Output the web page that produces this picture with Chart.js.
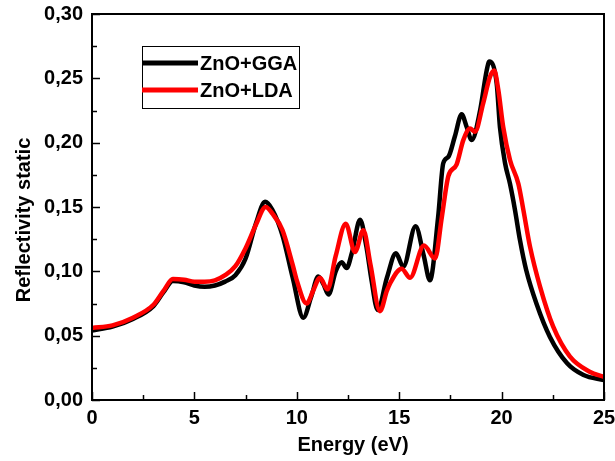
<!DOCTYPE html>
<html>
<head>
<meta charset="utf-8">
<script src="https://cdn.jsdelivr.net/npm/chart.js@4.4.1/dist/chart.umd.min.js"></script>
<style>
  html, body { margin: 0; padding: 0; background: #fff; }
  #wrap { width: 615px; height: 461px; }
</style>
</head>
<body>
<div id="wrap"><canvas id="refl" width="615" height="461"></canvas></div>
<script>
// Static reflectivity of ZnO, GGA vs LDA
const seriesLabels = ['ZnO+GGA', 'ZnO+LDA'];
const xTitle = 'Energy (eV)';
const yTitle = 'Reflectivity static';

const energyGGA = [0, 1, 2, 3, 3.5, 3.95, 4.5, 5, 5.5, 6, 6.5, 7, 7.5, 8, 8.45, 8.8, 9.3, 9.8, 10.32,
  10.7, 11.05, 11.3, 11.55, 11.9, 12.19, 12.43, 12.7, 13.09, 13.4, 13.65, 13.95, 14.4, 14.84, 15.2,
  15.8, 16.2, 16.5, 16.9, 17.15, 17.4, 17.72, 18.05, 18.3, 18.54, 18.95, 19.27, 19.4, 19.76, 19.92,
  20.17, 20.41, 20.65, 20.9, 21.2, 21.7, 22.36, 23.2, 24.0, 25];
const reflGGA = [0.054, 0.057, 0.063, 0.073, 0.084, 0.0925, 0.0915, 0.089, 0.088, 0.089, 0.092, 0.097,
  0.110, 0.137, 0.154, 0.148, 0.128, 0.095, 0.064, 0.080, 0.096, 0.090, 0.082, 0.100, 0.107, 0.1025,
  0.115, 0.140, 0.119, 0.093, 0.070, 0.095, 0.114, 0.1035, 0.135, 0.112, 0.093, 0.142, 0.184, 0.189,
  0.205, 0.222, 0.212, 0.202, 0.225, 0.256, 0.263, 0.246, 0.212, 0.184, 0.168, 0.148, 0.124, 0.101,
  0.075, 0.049, 0.0285, 0.0194, 0.0155];

const energyLDA = [0, 1, 2, 3, 3.5, 3.95, 4.5, 5, 5.5, 6, 6.5, 7, 7.5, 8, 8.48, 8.8, 9.3, 9.8, 10.0,
  10.48, 10.8, 11.13, 11.5, 11.9, 12.39, 12.84, 13.25, 13.6, 14.06, 14.4, 14.55, 15.12, 15.53, 16.21,
  16.75, 17.08, 17.4, 17.8, 18.13, 18.46, 18.7, 19.1, 19.43, 19.64, 19.84, 20.08, 20.41, 20.82, 21.06,
  21.39, 21.88, 22.52, 23.34, 24.3, 25];
const reflLDA = [0.056, 0.058, 0.064, 0.074, 0.085, 0.094, 0.0935, 0.092, 0.092, 0.093, 0.097, 0.104,
  0.118, 0.136, 0.150, 0.145, 0.132, 0.105, 0.093, 0.075, 0.085, 0.095, 0.086, 0.112, 0.137, 0.115,
  0.132, 0.105, 0.069, 0.085, 0.0905, 0.102, 0.095, 0.120, 0.110, 0.142, 0.174, 0.183, 0.202, 0.211,
  0.2085, 0.2305, 0.251, 0.256, 0.241, 0.212, 0.1865, 0.168, 0.148, 0.119, 0.088, 0.057, 0.0337,
  0.022, 0.018];

const xMin = 0, xMax = 25, xStep = 5;
const yMin = 0, yMax = 0.30, yStep = 0.05;

const toPoints = (xs, ys) => xs.map((x, i) => ({ x: x, y: ys[i] }));
const fmtComma = v => Number(v).toFixed(2).replace('.', ',');
const FONT = '"Liberation Sans", Arial, sans-serif';
const labelFont = { family: FONT, size: 20, weight: 'bold' };

// Inward major/minor ticks, box frame, axis titles and in-plot legend
const framePlugin = {
  id: 'frame',
  afterDraw(chart) {
    const { ctx, chartArea: a, scales } = chart;
    const xs = scales.x, ys = scales.y;
    ctx.save();
    ctx.strokeStyle = '#000';
    ctx.lineWidth = 1.5;
    for (let v = xMin; v <= xMax + 1e-9; v += xStep / 2) {
      const px = Math.round(xs.getPixelForValue(v)) + 0.5;
      const len = Math.abs(v % xStep) < 1e-9 ? 8 : 5;
      ctx.beginPath(); ctx.moveTo(px, a.bottom); ctx.lineTo(px, a.bottom - len); ctx.stroke();
    }
    for (let v = yMin; v <= yMax + 1e-9; v += yStep / 2) {
      const py = Math.round(ys.getPixelForValue(v)) + 0.5;
      const k = Math.round(v / (yStep / 2));
      const len = k % 2 === 0 ? 8 : 5;
      ctx.beginPath(); ctx.moveTo(a.left, py); ctx.lineTo(a.left + len, py); ctx.stroke();
    }
    ctx.lineWidth = 2;
    ctx.strokeRect(a.left, a.top, a.right - a.left, a.bottom - a.top);

    // axis titles
    ctx.fillStyle = '#000';
    ctx.font = 'bold 20px ' + FONT;
    ctx.textAlign = 'center';
    ctx.textBaseline = 'alphabetic';
    ctx.fillText(xTitle, 353, 451);
    ctx.save();
    ctx.translate(30, 220);
    ctx.rotate(-Math.PI / 2);
    ctx.fillText(yTitle, 0, 0);
    ctx.restore();

    // legend
    const bx = 142, by = 46, bw = 157, bh = 62;
    ctx.fillStyle = '#fff';
    ctx.fillRect(bx, by, bw, bh);
    ctx.strokeStyle = '#000';
    ctx.lineWidth = 1;
    ctx.strokeRect(bx + 0.5, by + 0.5, bw, bh);
    ctx.font = 'bold 20px ' + FONT;
    ctx.textBaseline = 'middle';
    ctx.textAlign = 'left';
    const rows = [63, 90];
    chart.data.datasets.forEach((ds, i) => {
      ctx.strokeStyle = ds.borderColor;
      ctx.lineWidth = 5;
      ctx.beginPath(); ctx.moveTo(bx, rows[i]); ctx.lineTo(bx + 56, rows[i]); ctx.stroke();
      ctx.fillStyle = '#000';
      ctx.fillText(ds.label, bx + 58, rows[i] + 1);
    });
    ctx.restore();
  }
};

new Chart(document.getElementById('refl'), {
  type: 'line',
  data: {
    datasets: [
      {
        label: seriesLabels[0],
        data: toPoints(energyGGA, reflGGA),
        borderColor: '#000000',
        borderWidth: 4.5,
        pointRadius: 0,
        cubicInterpolationMode: 'monotone',
        order: 2
      },
      {
        label: seriesLabels[1],
        data: toPoints(energyLDA, reflLDA),
        borderColor: '#ff0000',
        borderWidth: 4.5,
        pointRadius: 0,
        cubicInterpolationMode: 'monotone',
        order: 1
      }
    ]
  },
  options: {
    responsive: false,
    animation: false,
    layout: { padding: { top: 14, right: 11, left: 0, bottom: 0 } },
    plugins: { legend: { display: false }, tooltip: { enabled: false } },
    scales: {
      x: {
        type: 'linear',
        min: xMin, max: xMax,
        grid: { display: false, drawTicks: false },
        border: { display: false },
        ticks: { stepSize: xStep, color: '#000', font: labelFont, padding: 6, maxRotation: 0 },
        afterFit(s) { s.height = 61; s.paddingLeft = 0; s.paddingRight = 0; }
      },
      y: {
        type: 'linear',
        min: yMin, max: yMax,
        grid: { display: false, drawTicks: false },
        border: { display: false },
        ticks: { stepSize: yStep, color: '#000', font: labelFont, padding: 9, callback: v => fmtComma(v) },
        afterFit(s) { s.width = 92; s.paddingTop = 0; s.paddingBottom = 0; }
      }
    }
  },
  plugins: [framePlugin]
});
</script>
</body>
</html>
